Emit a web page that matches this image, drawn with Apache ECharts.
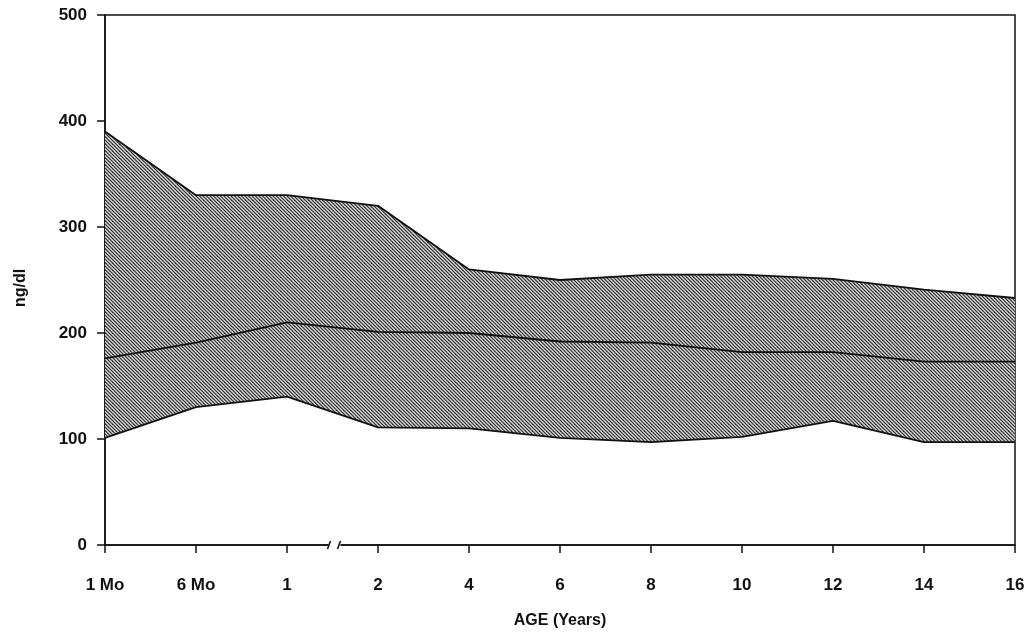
<!DOCTYPE html>
<html>
<head>
<meta charset="utf-8">
<script src="https://cdn.jsdelivr.net/npm/echarts@6/dist/echarts.min.js"></script>
<style>html,body{margin:0;padding:0;background:#fff}#c{width:1029px;height:634px}</style>
</head>
<body>
<div id="c"></div>
<script>
const categories = ['1 Mo','6 Mo','1','2','4','6','8','10','12','14','16'];
const upperValues = [390, 330, 330, 320, 260, 250, 255, 255, 251, 241, 233];
const middleValues = [176, 191, 210, 201, 200, 192, 191, 182, 182, 173, 173];
const lowerValues = [101, 130, 140, 111, 110, 101, 97, 102, 117, 97, 97];
const yTicks = {min: 0, max: 500, interval: 100};

const bandValues = upperValues.map((u, i) => u - lowerValues[i]);

function hatch() {
  const s = 7;
  const c = document.createElement('canvas');
  c.width = s; c.height = s;
  const g = c.getContext('2d');
  g.fillStyle = '#d6d6d6';
  g.fillRect(0, 0, s, s);
  g.strokeStyle = '#2a2a2a';
  g.lineWidth = 1.1;
  for (let k = -4; k <= 4; k++) {
    const o = k * 3.5;
    g.beginPath();
    g.moveTo(o - 2, -2);
    g.lineTo(o + s + 2, s + 2);
    g.stroke();
  }
  return c;
}

const font = '"Liberation Sans", Arial, sans-serif';
const chart = echarts.init(document.getElementById('c'));
chart.setOption({
  animation: false,
  grid: {left: 105, right: 14, top: 15, bottom: 84, show: true, borderColor: '#111', borderWidth: 1.5, backgroundColor: 'transparent'},
  xAxis: {
    type: 'category', data: categories, boundaryGap: false,
    name: 'AGE (Years)', nameLocation: 'middle', nameGap: 68,
    nameTextStyle: {fontFamily: font, fontWeight: 'bold', fontSize: 16, color: '#111'},
    axisLine: {lineStyle: {color: '#111', width: 1.5}},
    axisTick: {show: true, length: 8, inside: false, lineStyle: {color: '#111', width: 1.5}},
    axisLabel: {fontFamily: font, fontWeight: 'bold', fontSize: 17, color: '#111', margin: 32},
    splitLine: {show: false}
  },
  yAxis: {
    type: 'value', min: yTicks.min, max: yTicks.max, interval: yTicks.interval,
    name: 'ng/dl', nameLocation: 'middle', nameGap: 76, nameRotate: 90,
    nameTextStyle: {fontFamily: font, fontWeight: 'bold', fontSize: 16, color: '#111', padding: [0, 16, 0, 0]},
    axisLine: {show: true, lineStyle: {color: '#111', width: 1.5}},
    axisTick: {show: true, length: 8, lineStyle: {color: '#111', width: 1.5}},
    axisLabel: {fontFamily: font, fontWeight: 'bold', fontSize: 17, color: '#111', margin: 18},
    splitLine: {show: false}
  },
  series: [
    {type: 'line', name: 'lower', data: lowerValues, stack: 'band', symbol: 'none',
     lineStyle: {color: '#111', width: 1.8}, z: 3},
    {type: 'line', name: 'band', data: bandValues, stack: 'band', symbol: 'none',
     lineStyle: {color: '#111', width: 1.8},
     areaStyle: {color: {image: hatch(), repeat: 'repeat'}, opacity: 1}, z: 2},
    {type: 'line', name: 'mean', data: middleValues, symbol: 'none',
     lineStyle: {color: '#111', width: 1.8}, z: 4}
  ]
});

// axis break marks between "1" and "2"
const p1 = chart.convertToPixel({xAxisIndex: 0}, categories[2]);
const p2 = chart.convertToPixel({xAxisIndex: 0}, categories[3]);
const y0 = chart.convertToPixel({yAxisIndex: 0}, 0);
const mx = (p1 + p2) / 2 + 2;
chart.setOption({
  graphic: [
    {type: 'rect', shape: {x: mx - 6, y: y0 - 3, width: 12, height: 6}, style: {fill: '#fff'}, z: 100},
    {type: 'line', shape: {x1: mx - 7, y1: y0 + 4, x2: mx - 4, y2: y0 - 4}, style: {stroke: '#111', lineWidth: 1.6}, z: 101},
    {type: 'line', shape: {x1: mx + 3, y1: y0 + 4, x2: mx + 6, y2: y0 - 4}, style: {stroke: '#111', lineWidth: 1.6}, z: 101}
  ]
});
</script>
</body>
</html>
